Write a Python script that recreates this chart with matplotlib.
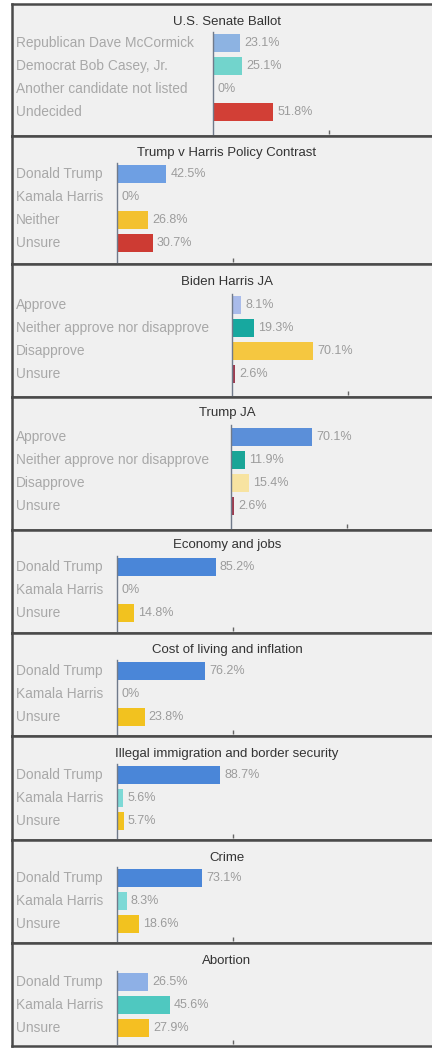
import matplotlib
matplotlib.use("Agg")
import matplotlib.pyplot as plt
from matplotlib.transforms import blended_transform_factory

plt.rcParams['font.family'] = ['Liberation Sans', 'DejaVu Sans']

W, H = 432, 1048

# ---- data ----
titles = [
    "U.S. Senate Ballot",
    "Trump v Harris Policy Contrast",
    "Biden Harris JA",
    "Trump JA",
    "Economy and jobs",
    "Cost of living and inflation",
    "Illegal immigration and border security",
    "Crime",
    "Abortion",
]
senate_labels = ["Republican Dave McCormick", "Democrat Bob Casey, Jr.",
                 "Another candidate not listed", "Undecided"]
senate_values = [23.1, 25.1, 0, 51.8]
contrast_labels = ["Donald Trump", "Kamala Harris", "Neither", "Unsure"]
contrast_values = [42.5, 0, 26.8, 30.7]
ja_labels = ["Approve", "Neither approve nor disapprove", "Disapprove", "Unsure"]
biden_ja_values = [8.1, 19.3, 70.1, 2.6]
trump_ja_values = [70.1, 11.9, 15.4, 2.6]
issue_labels = ["Donald Trump", "Kamala Harris", "Unsure"]
economy_values = [85.2, 0, 14.8]
cost_values = [76.2, 0, 23.8]
immigration_values = [88.7, 5.6, 5.7]
crime_values = [73.1, 8.3, 18.6]
abortion_values = [26.5, 45.6, 27.9]

labels_list = [senate_labels, contrast_labels, ja_labels, ja_labels,
               issue_labels, issue_labels, issue_labels, issue_labels, issue_labels]
values_list = [senate_values, contrast_values, biden_ja_values, trump_ja_values,
               economy_values, cost_values, immigration_values, crime_values,
               abortion_values]
colors_list = [
    ["#8db3e2", "#72d4cc", "#9aa0b0", "#d23f36"],
    ["#6e9fe3", "#72d4cc", "#f3c130", "#cd3b33"],
    ["#a9bbea", "#17a89f", "#f5c740", "#9e3b4f"],
    ["#5b8fd9", "#1aa597", "#f7e3a1", "#9e3b4f"],
    ["#4a86d8", "#7dd9d6", "#f2c21f"],
    ["#4a86d8", "#7dd9d6", "#f2c21f"],
    ["#4a86d8", "#7dd9d6", "#f2c21f"],
    ["#4a86d8", "#7dd9d6", "#f2c21f"],
    ["#8eb0e6", "#4fc8c0", "#f5bf22"],
]

# ---- layout (pixels) ----
borders = [4, 136, 264, 397, 530, 633, 736, 840, 943, 1046]
axis_x = [213, 117, 232, 231, 117, 117, 117, 117, 117]
scale_px = 116  # pixels for 100 %
row_px = 23
first_row = [39, 38, 41, 40, 37, 38, 39, 38, 39]
title_off = [18, 17, 18, 16, 15, 17, 18, 18, 18]

fig = plt.figure(figsize=(W / 100, H / 100), dpi=100)
fig.patch.set_facecolor("white")

for k in range(9):
    top, bot = borders[k], borders[k + 1]
    # frame panel
    fa = fig.add_axes([12 / W, 1 - bot / H, (450 - 12) / W, (bot - top) / H])
    fa.set_facecolor("#f0f0f0")
    fa.set_xticks([]); fa.set_yticks([])
    for s in fa.spines.values():
        s.set_color("#4a4a4a")
        s.set_linewidth(1.8)

    labels = labels_list[k]
    vals = values_list[k]
    cols = colors_list[k]
    n = len(labels)

    ytop = top + first_row[k] - row_px / 2
    ybot = bot - 2
    ax = fig.add_axes([axis_x[k] / W, 1 - ybot / H, scale_px / W, (ybot - ytop) / H])
    ax.set_facecolor("none")
    ax.set_xlim(0, 100)
    ax.set_ylim(-0.5 + (ybot - ytop) / row_px, -0.5)
    for name, s in ax.spines.items():
        s.set_visible(name == "left")
    ax.spines["left"].set_color("#707a8a")
    ax.spines["left"].set_linewidth(1.0)
    ax.set_yticks([])
    ax.set_xticks([100])
    ax.set_xticklabels([])
    ax.tick_params(axis="x", length=3, width=1, color="#666666", direction="in")

    ax.barh(range(n), vals, height=0.78, color=cols, zorder=2)
    for i, v in enumerate(vals):
        txt = "0%" if v == 0 else f"{v:.1f}%"
        ax.annotate(txt, (v, i), xytext=(3, 0), textcoords="offset points",
                    va="center", ha="left", fontsize=9, color="#9c9c9c")

    tr = blended_transform_factory(fig.transFigure, ax.transData)
    for i, lab in enumerate(labels):
        ax.text(16 / W, i, lab, transform=tr, va="center", ha="left",
                fontsize=9.9, color="#a8a8a8", clip_on=False)

    fig.text(227 / W, 1 - (top + title_off[k]) / H, titles[k], ha="center",
             va="center", fontsize=9.5, color="#333333")

fig.savefig("out.png", dpi=100, facecolor="white")
